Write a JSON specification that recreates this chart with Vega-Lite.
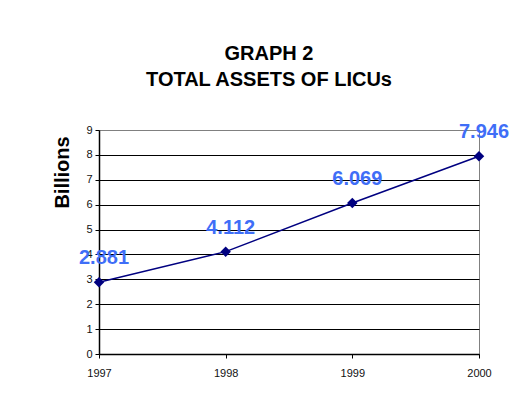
{
  "$schema": "https://vega.github.io/schema/vega-lite/v6.json",
  "width": 380,
  "height": 224,
  "autosize": {"type": "none"},
  "padding": {"left": 99, "top": 130, "right": 33, "bottom": 54},
  "background": "white",
  "title": {
    "text": ["GRAPH 2", "TOTAL ASSETS OF LICUs"],
    "font": "Liberation Sans",
    "fontSize": 20,
    "fontWeight": "bold",
    "color": "black",
    "lineHeight": 26,
    "anchor": "middle",
    "frame": "group",
    "dx": -20,
    "offset": 32
  },
  "data": {
    "values": [
      {"year": "1997", "assets": 2.881},
      {"year": "1998", "assets": 4.112},
      {"year": "1999", "assets": 6.069},
      {"year": "2000", "assets": 7.946}
    ]
  },
  "config": {
    "view": {"stroke": "#808080", "strokeWidth": 1},
    "axis": {
      "labelFont": "Liberation Sans",
      "labelFontSize": 11,
      "labelColor": "#111111",
      "domainColor": "black",
      "domainWidth": 1.5,
      "tickColor": "black",
      "tickSize": 4
    }
  },
  "encoding": {
    "x": {
      "field": "year",
      "type": "ordinal",
      "scale": {"type": "point", "padding": 0},
      "axis": {"title": null, "labelAngle": 0, "labelPadding": 9, "grid": false}
    },
    "y": {
      "field": "assets",
      "type": "quantitative",
      "scale": {"domain": [0, 9], "nice": false},
      "axis": {
        "values": [0, 1, 2, 3, 4, 5, 6, 7, 8, 9],
        "title": "Billions",
        "titleFont": "Liberation Sans",
        "titleFontSize": 20,
        "titleFontWeight": "bold",
        "titleColor": "black",
        "titleAngle": -90,
        "titleAlign": "center",
        "titleBaseline": "middle",
        "titleX": -37,
        "titleY": 42,
        "labelPadding": 3,
        "grid": true,
        "gridColor": {"condition": {"test": "datum.value == 9", "value": "#808080"}, "value": "black"},
        "gridWidth": 1
      }
    }
  },
  "layer": [
    {"mark": {"type": "line", "color": "#000080", "strokeWidth": 1.5}},
    {"mark": {"type": "point", "shape": "diamond", "filled": true, "color": "#000080", "opacity": 1, "size": 110}},
    {
      "mark": {
        "type": "text",
        "font": "Liberation Sans",
        "fontSize": 20,
        "fontWeight": "bold",
        "color": "#3F6EF7",
        "align": "center",
        "baseline": "middle",
        "dx": 5,
        "dy": -24
      },
      "encoding": {"text": {"field": "assets", "type": "quantitative", "format": ".3f"}}
    }
  ]
}
